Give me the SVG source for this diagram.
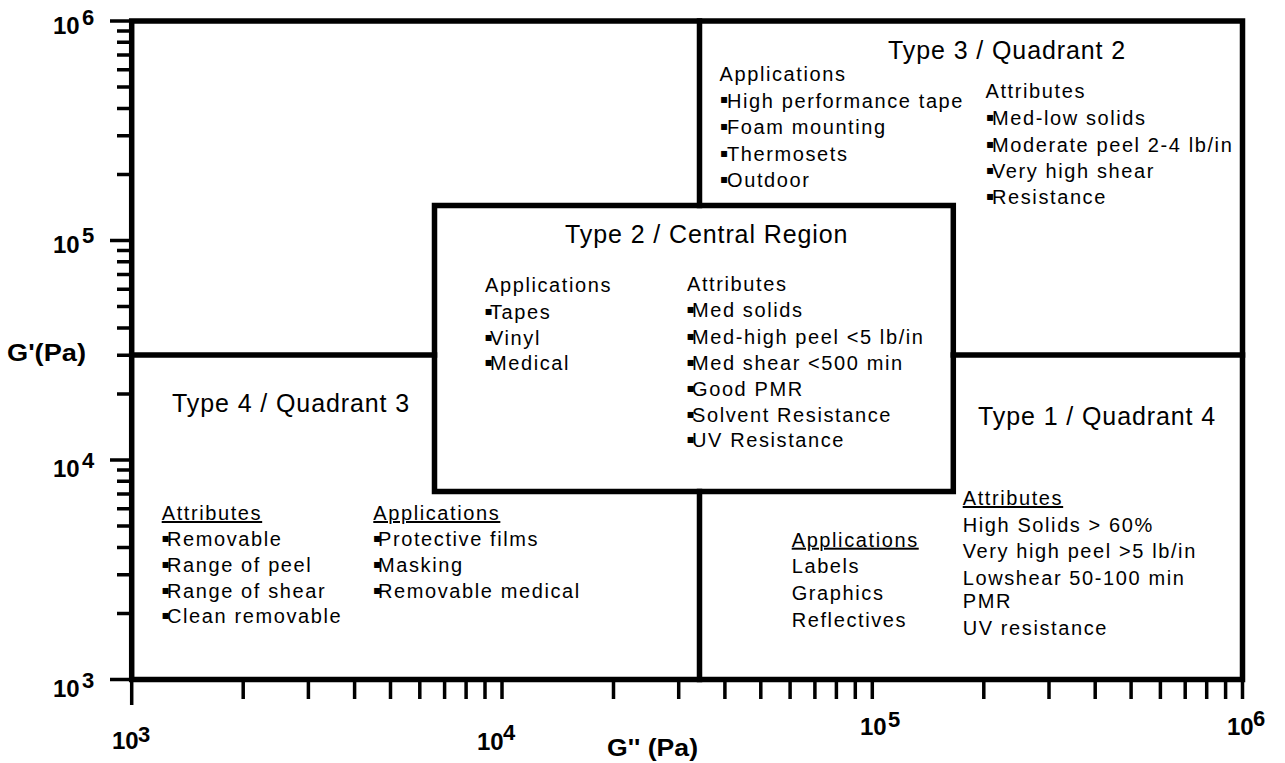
<svg xmlns="http://www.w3.org/2000/svg" width="1285" height="763" viewBox="0 0 1285 763">
<style>
  .ln { stroke: #000; stroke-width: 5.5; fill: none; stroke-linecap: square; }
  .tk { stroke: #000; stroke-width: 3.5; fill: none; }
  text { font-family: "Liberation Sans", Arial, "DejaVu Sans", sans-serif; fill: #000; }
  .t { font-size: 20px; letter-spacing: 1.6px; }
  .h { font-size: 25px; letter-spacing: 0.9px; }
  .u { text-decoration: underline; }
  .b { font-family: "DejaVu Sans", sans-serif; font-size: 12px; letter-spacing: 0; }
  .ax { font-size: 24px; font-weight: bold; }
  .sup { font-size: 22px; font-weight: bold; }
</style>
<rect x="0" y="0" width="1285" height="763" fill="#fff"/>

<g id="axes">
  <rect class="ln" x="131.7" y="21" width="1110.8" height="658.5"/>
  <g id="y-ticks">
    <path class="tk" d="M110 21H131.7M110 240.5H131.7M110 460H131.7M110 679.5H131.7
      M117 174.4H131.7M117 135.8H131.7M117 108.4H131.7M117 87.1H131.7M117 69.7H131.7M117 55H131.7M117 42.3H131.7M117 31H131.7
      M117 393.9H131.7M117 355.3H131.7M117 327.9H131.7M117 306.6H131.7M117 289.2H131.7M117 274.5H131.7M117 261.8H131.7M117 250.5H131.7
      M117 613.4H131.7M117 574.8H131.7M117 547.4H131.7M117 526.1H131.7M117 508.7H131.7M117 494H131.7M117 481.3H131.7M117 470H131.7"/>
  </g>
  <g id="x-ticks">
    <path class="tk" d="M131.7 679.5V705M502 679.5V699M872.3 679.5V699M1242.5 679.5V699
      M243.2 679.5V699M308.4 679.5V699M354.6 679.5V699M390.5 679.5V699M419.8 679.5V699M444.6 679.5V699M466.1 679.5V699M485 679.5V699
      M613.5 679.5V699M678.7 679.5V699M724.9 679.5V699M760.8 679.5V699M790.1 679.5V699M814.9 679.5V699M836.4 679.5V699M855.3 679.5V699
      M983.8 679.5V699M1049 679.5V699M1095.2 679.5V699M1131.1 679.5V699M1160.4 679.5V699M1185.2 679.5V699M1206.7 679.5V699M1225.6 679.5V699"/>
  </g>
  <g id="y-labels">
    <text class="ax" x="53" y="34">10</text><text class="sup" x="82" y="25">6</text>
    <text class="ax" x="53" y="253">10</text><text class="sup" x="82" y="243">5</text>
    <text class="ax" x="53" y="477">10</text><text class="sup" x="82" y="468">4</text>
    <text class="ax" x="53" y="697">10</text><text class="sup" x="82" y="688">3</text>
    <text class="ax" x="7" y="361" font-size="22" textLength="79" lengthAdjust="spacingAndGlyphs">G'(Pa)</text>
  </g>
  <g id="x-labels">
    <text class="ax" x="112" y="749">10</text><text class="sup" x="138" y="742">3</text>
    <text class="ax" x="477" y="750">10</text><text class="sup" x="503" y="740">4</text>
    <text class="ax" x="860" y="735">10</text><text class="sup" x="888" y="727">5</text>
    <text class="ax" x="1227" y="735">10</text><text class="sup" x="1253" y="726">6</text>
    <text class="ax" x="607" y="756" font-size="22" textLength="91" lengthAdjust="spacingAndGlyphs">G'' (Pa)</text>
  </g>
</g>

<g id="connectors">
  <path class="ln" d="M699.5 21V205.5M699.5 491.5V679.5M131.7 355H434.5M953.3 355H1242.5"/>
</g>

<g id="type3-quadrant2">
  <text class="h" x="888" y="59">Type 3 / Quadrant 2</text>
  <text class="t" x="719.5" y="81">Applications</text>
  <text class="t"><tspan class="b" x="720" y="103">▪</tspan><tspan x="727" y="107.5">High performance tape</tspan></text>
  <text class="t"><tspan class="b" x="720" y="130">▪</tspan><tspan x="727" y="134">Foam mounting</tspan></text>
  <text class="t"><tspan class="b" x="720" y="156.5">▪</tspan><tspan x="727" y="160.5">Thermosets</tspan></text>
  <text class="t"><tspan class="b" x="720" y="183">▪</tspan><tspan x="727" y="187">Outdoor</tspan></text>
  <text class="t" x="985.5" y="98">Attributes</text>
  <text class="t"><tspan class="b" x="986" y="121">▪</tspan><tspan x="992" y="125">Med-low solids</tspan></text>
  <text class="t"><tspan class="b" x="986" y="147.5">▪</tspan><tspan x="992" y="151.5">Moderate peel 2-4 lb/in</tspan></text>
  <text class="t"><tspan class="b" x="986" y="173.5">▪</tspan><tspan x="992" y="177.5">Very high shear</tspan></text>
  <text class="t"><tspan class="b" x="986" y="200">▪</tspan><tspan x="992" y="204">Resistance</tspan></text>
</g>

<g id="type2-central">
  <rect class="ln" x="434.5" y="205.5" width="518.8" height="286" fill="#fff"/>
  <text class="h" x="565" y="243">Type 2 / Central Region</text>
  <text class="t" x="485" y="292">Applications</text>
  <text class="t"><tspan class="b" x="484.5" y="314.5">▪</tspan><tspan x="490" y="318.5">Tapes</tspan></text>
  <text class="t"><tspan class="b" x="484.5" y="340.5">▪</tspan><tspan x="490" y="344.5">Vinyl</tspan></text>
  <text class="t"><tspan class="b" x="484.5" y="366">▪</tspan><tspan x="490" y="370">Medical</tspan></text>
  <text class="t" x="687" y="290.5">Attributes</text>
  <text class="t"><tspan class="b" x="686.5" y="313">▪</tspan><tspan x="692" y="317">Med solids</tspan></text>
  <text class="t"><tspan class="b" x="686.5" y="339.5">▪</tspan><tspan x="692" y="343.5">Med-high peel &lt;5 lb/in</tspan></text>
  <text class="t"><tspan class="b" x="686.5" y="366">▪</tspan><tspan x="692" y="370">Med shear &lt;500 min</tspan></text>
  <text class="t"><tspan class="b" x="686.5" y="392">▪</tspan><tspan x="692" y="396">Good PMR</tspan></text>
  <text class="t"><tspan class="b" x="686.5" y="417.5">▪</tspan><tspan x="692" y="421.5">Solvent Resistance</tspan></text>
  <text class="t"><tspan class="b" x="686.5" y="443">▪</tspan><tspan x="692" y="447">UV Resistance</tspan></text>
</g>

<g id="type4-quadrant3">
  <text class="h" x="172" y="412">Type 4 / Quadrant 3</text>
  <text class="t u" x="161.7" y="520">Attributes</text>
  <text class="t"><tspan class="b" x="161.5" y="542">▪</tspan><tspan x="167" y="546">Removable</tspan></text>
  <text class="t"><tspan class="b" x="161.5" y="568">▪</tspan><tspan x="167" y="572">Range of peel</tspan></text>
  <text class="t"><tspan class="b" x="161.5" y="593.5">▪</tspan><tspan x="167" y="597.5">Range of shear</tspan></text>
  <text class="t"><tspan class="b" x="161.5" y="619">▪</tspan><tspan x="167" y="623">Clean removable</tspan></text>
  <text class="t u" x="373.3" y="520">Applications</text>
  <text class="t"><tspan class="b" x="373" y="542">▪</tspan><tspan x="378" y="546">Protective films</tspan></text>
  <text class="t"><tspan class="b" x="373" y="568">▪</tspan><tspan x="378" y="572">Masking</tspan></text>
  <text class="t"><tspan class="b" x="373" y="593.5">▪</tspan><tspan x="378" y="597.5">Removable medical</tspan></text>
</g>

<g id="type1-quadrant4">
  <text class="h" x="978" y="425">Type 1 / Quadrant 4</text>
  <text class="t u" x="962.7" y="505">Attributes</text>
  <text class="t" x="962.7" y="531.7">High Solids &gt; 60%</text>
  <text class="t" x="962.7" y="558.3">Very high peel &gt;5 lb/in</text>
  <text class="t" x="962.7" y="585">Lowshear 50-100 min</text>
  <text class="t" x="962.7" y="608.3">PMR</text>
  <text class="t" x="962.7" y="635">UV resistance</text>
  <text class="t u" x="791.7" y="546.7">Applications</text>
  <text class="t" x="791.7" y="573.3">Labels</text>
  <text class="t" x="791.7" y="600">Graphics</text>
  <text class="t" x="791.7" y="626.7">Reflectives</text>
</g>
</svg>
